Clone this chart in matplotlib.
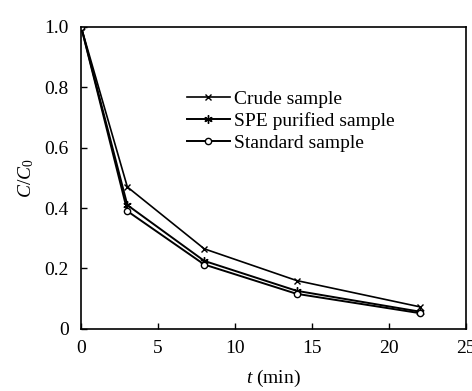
import matplotlib

matplotlib.use("Agg")
import matplotlib.pyplot as plt

# Values
time_min = [0, 3, 8, 14, 22]
crude = [1.0, 0.47, 0.265, 0.16, 0.073]
spe_purified = [1.0, 0.41, 0.225, 0.126, 0.057]
standard = [1.0, 0.39, 0.213, 0.116, 0.052]
series_labels = ["Crude sample", "SPE purified sample", "Standard sample"]

plt.rcParams["font.family"] = ["Liberation Serif", "DejaVu Serif"]
plt.rcParams["mathtext.fontset"] = "custom"
plt.rcParams["mathtext.rm"] = "Liberation Serif"
plt.rcParams["mathtext.it"] = "Liberation Serif:italic"
plt.rcParams["font.size"] = 14

fig = plt.figure(figsize=(4.72, 3.91), dpi=100)
ax = fig.add_axes([0.172, 0.159, 0.815, 0.772])

# Crude: x marks, SPE: asterisks, standard: open circles
ax.plot(time_min, crude, color="black", lw=1.2, marker="x", ms=5, mew=1.0,
        label=series_labels[0])
ax.plot(time_min, spe_purified, color="black", lw=1.4, marker=(6, 2, 0), ms=6,
        mew=1.0, label=series_labels[1])
ax.plot(time_min, standard, color="black", lw=1.4, marker="o", ms=4.5,
        mfc="white", mew=1.0, label=series_labels[2])

ax.set_xlim(0, 25)
ax.set_ylim(0, 1.0)
ax.set_xticks([0, 5, 10, 15, 20, 25])
ax.set_yticks([0, 0.2, 0.4, 0.6, 0.8, 1.0])
ax.set_yticklabels(["0", "0.2", "0.4", "0.6", "0.8", "1.0"])
ax.tick_params(direction="in", length=4, width=1.0, labelsize=14)
ax.tick_params(axis="x", pad=8)
ax.tick_params(axis="y", pad=9)
for spine in ax.spines.values():
    spine.set_linewidth(1.2)

ax.set_xlabel("$t$ (min)", fontsize=14, labelpad=8)
ax.set_ylabel(r"$C/C_\mathrm{0}$", fontsize=14, labelpad=6)

ax.legend(loc="upper left", bbox_to_anchor=(0.275, 0.79), frameon=False,
          borderaxespad=0, borderpad=0, handlelength=2.2, handletextpad=0.2,
          labelspacing=0.22, fontsize=14)

fig.savefig("out.png", dpi=100)
